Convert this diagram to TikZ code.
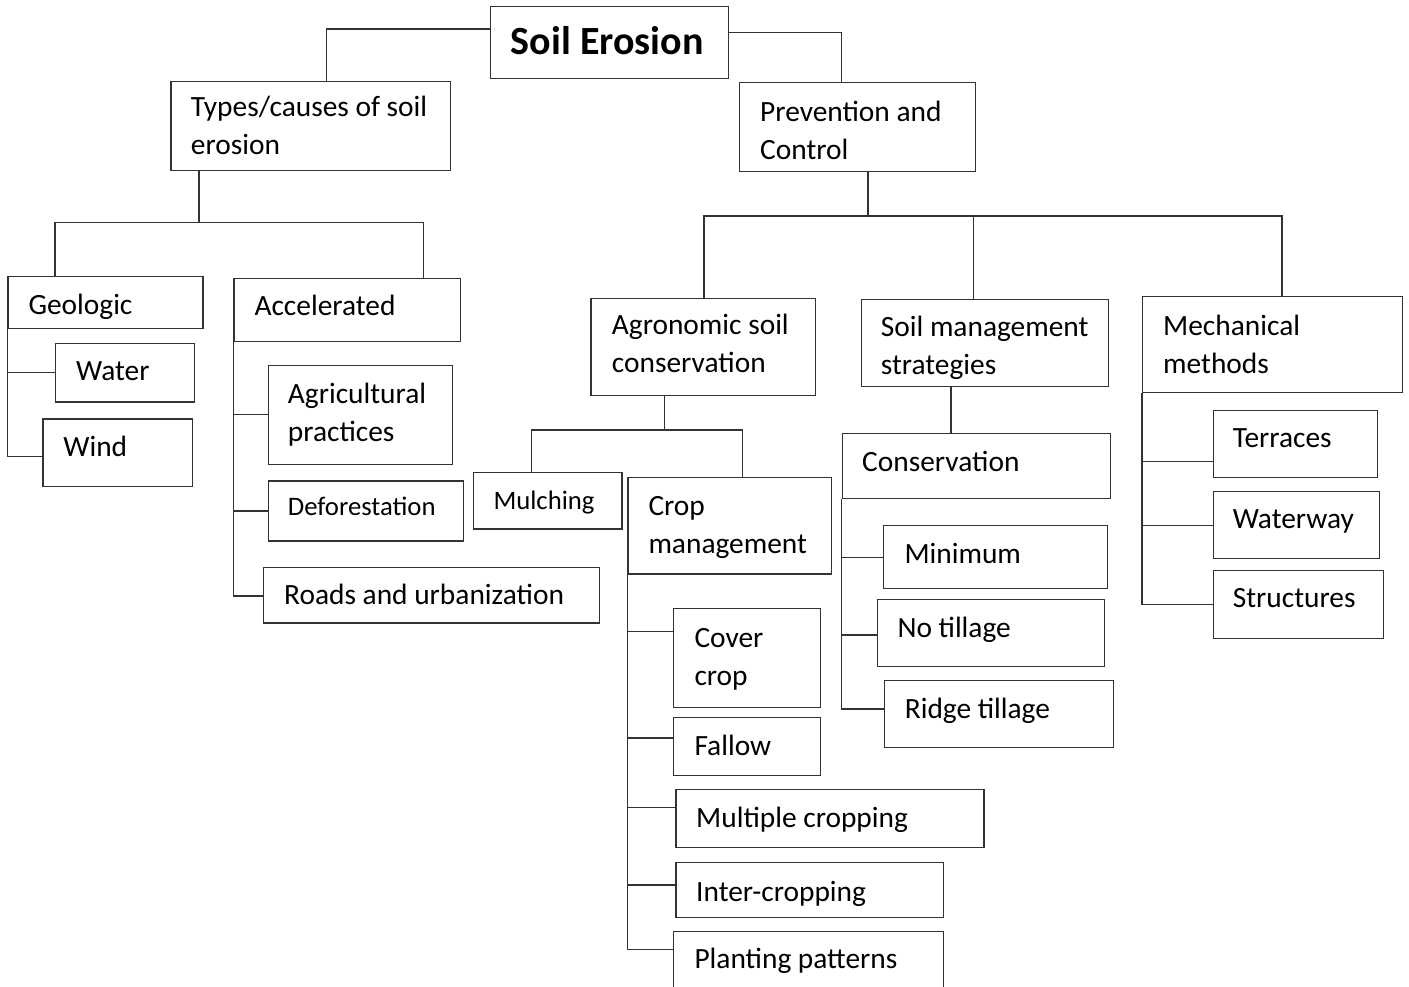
\documentclass[tikz,border=0pt]{standalone}
\usepackage{fontspec}
\setmainfont{Carlito}

\begin{document}
\begin{tikzpicture}[x=1pt,y=-1pt,
		box/.style={draw=black!80,line width=1.2pt,anchor=north west,inner sep=0pt},
		txt/.style={anchor=base west,inner sep=0pt,align=left,font=\fontsize{29.4}{38}\selectfont},
		small/.style={txt,font=\fontsize{26.7}{32}\selectfont},
		link/.style={draw=black!80,line width=1.2pt}]
		\clip (0,0) rectangle (1409,987);
		% root (two-line texts sit on the base of their last line)
		\node[box,minimum width=237.7pt,minimum height=71.7pt] (root) at (490,6) {};
		\node[txt,font=\fontsize{40}{44}\selectfont\bfseries] (root-t) at (510.7,55) {Soil Erosion};
		% first level
		\node[box,minimum width=279.4pt,minimum height=89pt] (types) at (170.3,80.7) {};
		\node[txt] (types-t) at (190.7,155) {Types/causes of soil\\erosion};
		\node[box,minimum width=236pt,minimum height=88.7pt] (prev) at (739,82.3) {};
		\node[txt] (prev-t) at (760,160) {Prevention and\\Control};
		\draw[link] (root.west |- 0,29) -| (326.7,0 |- types.north);
		\draw[link] (root.east |- 0,32.7) -| (841.7,0 |- prev.north);
		% types/causes
		\node[box,minimum width=195pt,minimum height=51.7pt] (geo) at (7.3,276) {};
		\node[txt] (geo-t) at (28.3,314) {Geologic};
		\node[box,minimum width=226.7pt,minimum height=62.7pt] (accel) at (233.3,278.3) {};
		\node[txt] (accel-t) at (254.3,316) {Accelerated};
		\draw[link] (199,0 |- types.south) -- (199,222.3);
		\draw[link] (55,0 |- geo.north) |- (423.3,222.3) -- (423.3,0 |- accel.north);
		% geologic
		\node[box,minimum width=139.2pt,minimum height=58.6pt] (water) at (54.5,342.7) {};
		\node[txt] (water-t) at (75.9,380.7) {Water};
		\node[box,minimum width=149.7pt,minimum height=67.4pt] (wind) at (42.3,418.3) {};
		\node[txt] (wind-t) at (63.2,456.7) {Wind};
		\draw[link] (geo.south west) |- (wind.west |- 0,456.7);
		\draw[link] (geo.south west |- water.west) -- (water.west);
		% accelerated
		\node[box,minimum width=184.6pt,minimum height=99pt] (agri) at (267.6,364.7) {};
		\node[txt] (agri-t) at (287.7,441) {Agricultural\\practices};
		\node[box,minimum width=195.6pt,minimum height=60pt] (defor) at (267.6,480.3) {};
		\node[small] (defor-t) at (287.7,515.7) {Deforestation};
		\node[box,minimum width=336pt,minimum height=55.3pt] (roads) at (262.8,567) {};
		\node[txt] (roads-t) at (284,604) {Roads and urbanization};
		\draw[link] (accel.south west) |- (roads.west |- 0,596);
		\draw[link] (accel.south west |- agri.west) -- (agri.west);
		\draw[link] (accel.south west |- defor.west) -- (defor.west);
		% prevention and control
		\node[box,minimum width=224.7pt,minimum height=97.3pt] (agro) at (590.3,297.7) {};
		\node[txt] (agro-t) at (611.7,372) {Agronomic soil\\conservation};
		\node[box,minimum width=247.5pt,minimum height=87pt] (soilm) at (860.5,299) {};
		\node[txt] (soilm-t) at (880.7,374) {Soil management\\strategies};
		\node[box,minimum width=260pt,minimum height=96pt] (mech) at (1142,296) {};
		\node[txt] (mech-t) at (1163,373) {Mechanical\\methods};
		\draw[link] (868,0 |- prev.south) -- (868,216);
		\draw[link] (704,0 |- agro.north) |- (1282,216) -- (1282,0 |- mech.north);
		\draw[link] (973.7,216) -- (973.7,0 |- soilm.north);
		% agronomic
		\node[box,minimum width=148.6pt,minimum height=56.6pt] (mulch) at (472.7,471.7) {};
		\node[small] (mulch-t) at (493.3,509) {Mulching};
		\node[box,minimum width=203.7pt,minimum height=96.6pt] (crop) at (627.3,476.7) {};
		\node[txt] (crop-t) at (648.3,553) {Crop\\management};
		\draw[link] (664.7,0 |- agro.south) -- (664.7,430);
		\draw[link] (531.7,0 |- mulch.north) |- (742.7,430) -- (742.7,0 |- crop.north);
		% crop management
		\node[box,minimum width=146.7pt,minimum height=99pt] (cover) at (673,607.7) {};
		\node[txt] (cover-t) at (694.3,685) {Cover\\crop};
		\node[box,minimum width=146.7pt,minimum height=58pt] (fallow) at (673,717) {};
		\node[txt] (fallow-t) at (694.3,755.7) {Fallow};
		\node[box,minimum width=308pt,minimum height=58.3pt] (multi) at (675.3,788.7) {};
		\node[txt] (multi-t) at (696,827.3) {Multiple cropping};
		\node[box,minimum width=267.7pt,minimum height=55.3pt] (inter) at (675.3,861.7) {};
		\node[txt] (inter-t) at (696,901.7) {Inter-cropping};
		\node[box,minimum width=270pt,minimum height=70pt] (plant) at (673,930.7) {};
		\node[txt] (plant-t) at (694.3,968.3) {Planting patterns};
		\draw[link] (crop.south west) |- (plant.west |- 0,949.3);
		\draw[link] (crop.south west |- 0,631.7) -- (cover.west |- 0,631.7);
		\draw[link] (crop.south west |- 0,738) -- (fallow.west |- 0,738);
		\draw[link] (crop.south west |- 0,807.7) -- (multi.west |- 0,807.7);
		\draw[link] (crop.south west |- 0,885) -- (inter.west |- 0,885);
		% soil management
		\node[box,minimum width=268.2pt,minimum height=64.5pt] (cons) at (841.8,433) {};
		\node[txt] (cons-t) at (862,471.4) {Conservation};
		\draw[link] (951,0 |- soilm.south) -- (951,0 |- cons.north);
		\node[box,minimum width=224pt,minimum height=63pt] (mini) at (883,525) {};
		\node[txt] (mini-t) at (904.3,563.6) {Minimum};
		\node[box,minimum width=227.3pt,minimum height=67pt] (notill) at (876.7,599) {};
		\node[txt] (notill-t) at (897.3,637.5) {No tillage};
		\node[box,minimum width=229pt,minimum height=67pt] (ridge) at (884,680) {};
		\node[txt] (ridge-t) at (904.6,718.6) {Ridge tillage};
		\draw[link] (cons.south west) |- (ridge.west |- 0,709);
		\draw[link] (cons.south west |- mini.west) -- (mini.west);
		\draw[link] (cons.south west |- 0,635) -- (notill.west |- 0,635);
		% mechanical
		\node[box,minimum width=164pt,minimum height=67.2pt] (terr) at (1212.7,409.6) {};
		\node[txt] (terr-t) at (1232.6,447) {Terraces};
		\node[box,minimum width=166pt,minimum height=67pt] (waterway) at (1213,491) {};
		\node[txt] (waterway-t) at (1232.6,528.6) {Waterway};
		\node[box,minimum width=169.6pt,minimum height=67.5pt] (struct) at (1213,570) {};
		\node[txt] (struct-t) at (1232.6,607.9) {Structures};
		\draw[link] (mech.south west) |- (struct.west);
		\draw[link] (mech.south west |- 0,461.4) -- (terr.west |- 0,461.4);
		\draw[link] (mech.south west |- waterway.west) -- (waterway.west);
	\end{tikzpicture}
\end{document}
